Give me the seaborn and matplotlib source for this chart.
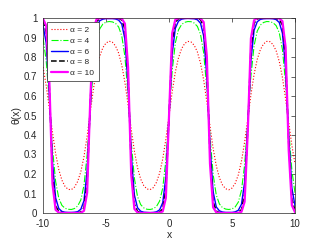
import numpy as np
import pandas as pd
import matplotlib
matplotlib.use("Agg")
import matplotlib.pyplot as plt
import seaborn as sns

# ===================== DADOS =====================
x = np.linspace(-10, 10, 81)

alpha2 = [.748, .654, .537, .414, .305, .223, .168, .136, .121, .120, .133, .162, .212, .289, .394, .517,
          .636, .734, .804, .848, .872, .881, .876, .857, .820, .758, .669, .554, .430, .318, .232, .174,
          .140, .123, .120, .130, .157, .204, .277, .379, .500, .621, .723, .796, .843, .870, .880, .877,
          .860, .826, .768, .682, .570, .446, .331, .242, .180, .143, .124, .119, .128, .152, .196, .266,
          .364, .483, .606, .711, .788, .838, .867, .880, .879, .864, .832, .777, .695, .586, .463, .346, .252]
alpha4 = [.898, .782, .575, .332, .161, .076, .039, .024, .019, .018, .023, .036, .067, .142, .297, .533,
          .753, .884, .944, .969, .979, .982, .980, .973, .954, .908, .803, .606, .362, .178, .084, .043,
          .026, .019, .018, .022, .033, .061, .128, .271, .500, .729, .872, .939, .967, .978, .982, .981,
          .974, .957, .916, .822, .638, .394, .197, .092, .046, .027, .020, .018, .021, .031, .056, .116,
          .247, .467, .703, .858, .933, .964, .977, .982, .981, .976, .961, .924, .839, .668, .425, .218, .102]
alpha6 = [.963, .872, .611, .260, .078, .023, .008, .004, .003, .003, .004, .007, .019, .063, .216, .550,
          .842, .955, .986, .994, .997, .997, .997, .995, .989, .969, .891, .657, .300, .092, .027, .009,
          .004, .003, .002, .003, .006, .016, .053, .185, .500, .815, .947, .984, .994, .997, .998, .997,
          .996, .991, .973, .908, .700, .343, .109, .031, .011, .005, .003, .003, .003, .006, .014, .045,
          .158, .450, .784, .937, .981, .993, .996, .997, .997, .996, .992, .977, .922, .740, .389, .128, .037]
alpha8 = [.987, .928, .646, .199, .036, .007, .002, .001, .000, .000, .001, .001, .005, .027, .152, .566,
          .903, .983, .996, .999, .999, 1.00, 1.00, .999, .998, .990, .943, .704, .244, .045, .008, .002,
          .001, .000, .000, .000, .001, .004, .021, .121, .500, .879, .979, .996, .999, 1.00, 1.00, 1.00,
          .999, .998, .992, .955, .756, .296, .057, .010, .002, .001, .000, .000, .001, .001, .004, .017,
          .097, .434, .848, .973, .995, .999, .999, 1.00, 1.00, .999, .998, .993, .964, .801, .354, .072, .013]
alpha10 = [.996, .961, .680, .149, .016, .002, .000, .000, .000, .000, .000, .000, .001, .011, .104, .582,
           .942, .994, .999, 1.00, 1.00, 1.00, 1.00, 1.00, .999, .997, .971, .747, .196, .021, .002, .000,
           .000, .000, .000, .000, .000, .001, .008, .078, .500, .922, .992, .999, 1.00, 1.00, 1.00, 1.00,
           1.00, 1.00, .998, .979, .804, .253, .029, .003, .001, .000, .000, .000, .000, .000, .001, .006,
           .058, .418, .896, .989, .999, 1.00, 1.00, 1.00, 1.00, 1.00, 1.00, .998, .984, .851, .320, .039, .004]

labels = ["α = 2", "α = 4", "α = 6", "α = 8", "α = 10"]
series = [alpha2, alpha4, alpha6, alpha8, alpha10]

df = pd.concat([pd.DataFrame({"x": x, "theta": s, "serie": lab}) for s, lab in zip(series, labels)])

# estilos no jeito do MATLAB
cores = ["#ff0000", "#00ff00", "#0000ff", "#000000", "#ff00ff"]
tracos = [":", "-.", "-", "--", "-"]
larguras = [0.8, 0.8, 1.0, 1.1, 1.6]

# ===================== GRÁFICO =====================
sns.set_style("white")
plt.rcParams["font.family"] = ["Liberation Sans", "DejaVu Sans"]

fig = plt.figure(figsize=(3.26, 2.4), dpi=100)
ax = fig.add_axes([0.132, 0.1125, 0.773, 0.8125])

for lab, c, ls, lw in zip(labels, cores, tracos, larguras):
    sns.lineplot(data=df[df["serie"] == lab], x="x", y="theta", color=c,
                 linestyle=ls, linewidth=lw, label=lab, ax=ax)

ax.set_xlim(-10, 10)
ax.set_ylim(0, 1)
ax.set_xticks([-10, -5, 0, 5, 10])
ax.set_xticklabels(["-10", "-5", "0", "5", "10"])
yt = [0, 0.1, 0.2, 0.3, 0.4, 0.5, 0.6, 0.7, 0.8, 0.9, 1]
ax.set_yticks(yt)
ax.set_yticklabels(["0", "0.1", "0.2", "0.3", "0.4", "0.5", "0.6", "0.7", "0.8", "0.9", "1"])
ax.tick_params(direction="in", top=True, right=True, length=3, width=0.5,
               color="0.15", labelcolor="0.15", labelsize=7)
ax.tick_params(axis="x", pad=4)
ax.tick_params(axis="y", pad=4)
for sp in ax.spines.values():
    sp.set_visible(True)
    sp.set_color("0.15")
    sp.set_linewidth(0.5)

ax.set_xlabel("x", fontsize=7.5, color="0.15", labelpad=1)
ax.set_ylabel("θ(x)", fontsize=7.5, color="0.15", labelpad=2)

leg = ax.legend(loc="upper left", bbox_to_anchor=(0.016, 0.979), fontsize=6,
                frameon=True, fancybox=False, edgecolor="0.15", framealpha=1,
                borderpad=0.5, labelspacing=0.35, handlelength=2.0,
                handletextpad=0.3, borderaxespad=0)
leg.get_frame().set_linewidth(0.5)

fig.savefig("out.png", dpi=100)
